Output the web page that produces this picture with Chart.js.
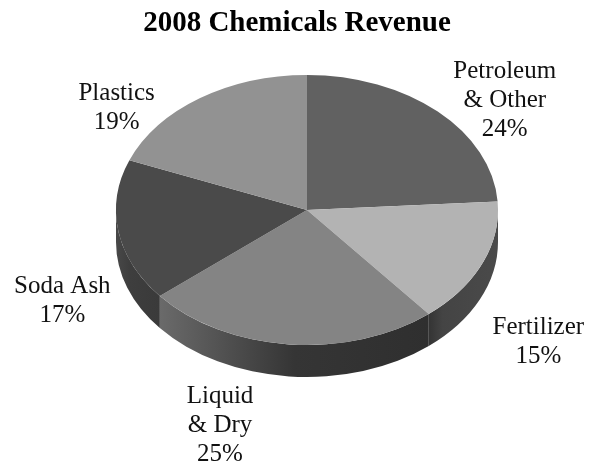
<!DOCTYPE html>
<html><head><meta charset="utf-8">
<script src="https://cdn.jsdelivr.net/npm/chart.js@4.4.1/dist/chart.umd.min.js"></script>
<style>html,body{margin:0;padding:0;background:#fff;}#wrap{width:594px;height:466px;position:relative;}</style>
</head><body><div id="wrap"><canvas id="c" width="594" height="466"></canvas></div>
<script>
const categories = ['Petroleum & Other', 'Fertilizer', 'Liquid & Dry', 'Soda Ash', 'Plastics'];
const labelLines = [['Petroleum', '& Other'], ['Fertilizer'], ['Liquid', '& Dry'], ['Soda Ash'], ['Plastics']];
const shares = [24, 15, 25, 17, 19];
const chartTitle = '2008 Chemicals Revenue';

// styles / layout (not data)
const topColors = ['#616161', '#b3b3b3', '#848484', '#4a4a4a', '#929292'];
const sideStops = [
  [[0, '#404040'], [1, '#404040']],
  [[0, '#343434'], [0.2, '#444444'], [1, '#4a4a4a']],
  [[0, '#6a6a6a'], [0.5, '#353535'], [1, '#2f2f2f']],
  [[0, '#484848'], [0.3, '#3e3e3e'], [1, '#3a3a3a']],
  [[0, '#505050'], [1, '#505050']]
];
// label centre-x / first-baseline offsets from the slice's mid-angle rim point
const labelOffsets = [[67, -34], [56, 70], [-69, 59], [-56, 62], [-83, 2]];
const G = {cx: 307, cy: 210, rx: 191, ry: 135, depth: 32, lineH: 29};

const pie3d = {
  id: 'pie3d',
  beforeDatasetsDraw(chart) {
    const ctx = chart.ctx;
    const meta = chart.getDatasetMeta(0);
    const a0 = meta.data[0];
    const ox = a0.x, oy = a0.y, R = a0.outerRadius;
    meta.data.forEach((arc, i) => {
      const s = Math.max(arc.startAngle, 0), e = Math.min(arc.endAngle, Math.PI);
      if (e <= s) return;
      ctx.save();
      ctx.beginPath();
      ctx.ellipse(G.cx, G.cy, G.rx, G.ry, 0, s, e, false);
      ctx.ellipse(G.cx, G.cy + G.depth, G.rx, G.ry, 0, e, s, true);
      ctx.closePath();
      const xl = G.cx + G.rx * Math.cos(e), xr = G.cx + G.rx * Math.cos(s);
      const gr = ctx.createLinearGradient(xl, 0, xr, 0);
      sideStops[i].forEach(st => gr.addColorStop(st[0], st[1]));
      ctx.fillStyle = gr;
      ctx.fill();
      ctx.restore();
    });
    ctx.save();
    ctx.translate(G.cx, G.cy);
    ctx.scale(G.rx / R, G.ry / R);
    ctx.translate(-ox, -oy);
  },
  afterDatasetsDraw(chart) {
    const ctx = chart.ctx;
    ctx.restore();
    const meta = chart.getDatasetMeta(0);
    ctx.save();
    ctx.font = '25px "Liberation Serif", "Times New Roman", serif';
    ctx.fillStyle = '#111';
    ctx.textAlign = 'center';
    ctx.textBaseline = 'alphabetic';
    meta.data.forEach((arc, i) => {
      const mid = (arc.startAngle + arc.endAngle) / 2;
      const ax = G.cx + G.rx * Math.cos(mid), ay = G.cy + G.ry * Math.sin(mid);
      const lx = ax + labelOffsets[i][0], ly = ay + labelOffsets[i][1];
      const lines = labelLines[i].concat([shares[i] + '%']);
      lines.forEach((t, k) => ctx.fillText(t, lx, ly + k * G.lineH));
    });
    ctx.restore();
  }
};

new Chart(document.getElementById('c'), {
  type: 'pie',
  data: {
    labels: categories,
    datasets: [{data: shares, backgroundColor: topColors, borderWidth: 0, hoverOffset: 0}]
  },
  options: {
    responsive: false,
    animation: false,
    events: [],
    layout: {padding: 0},
    plugins: {
      legend: {display: false},
      tooltip: {enabled: false},
      title: {
        display: true, text: chartTitle, color: '#000',
        font: {family: '"Liberation Serif", "Times New Roman", serif', size: 29, weight: 'bold'},
        padding: {top: 6, bottom: 10}
      }
    }
  },
  plugins: [pie3d]
});
</script></body></html>
